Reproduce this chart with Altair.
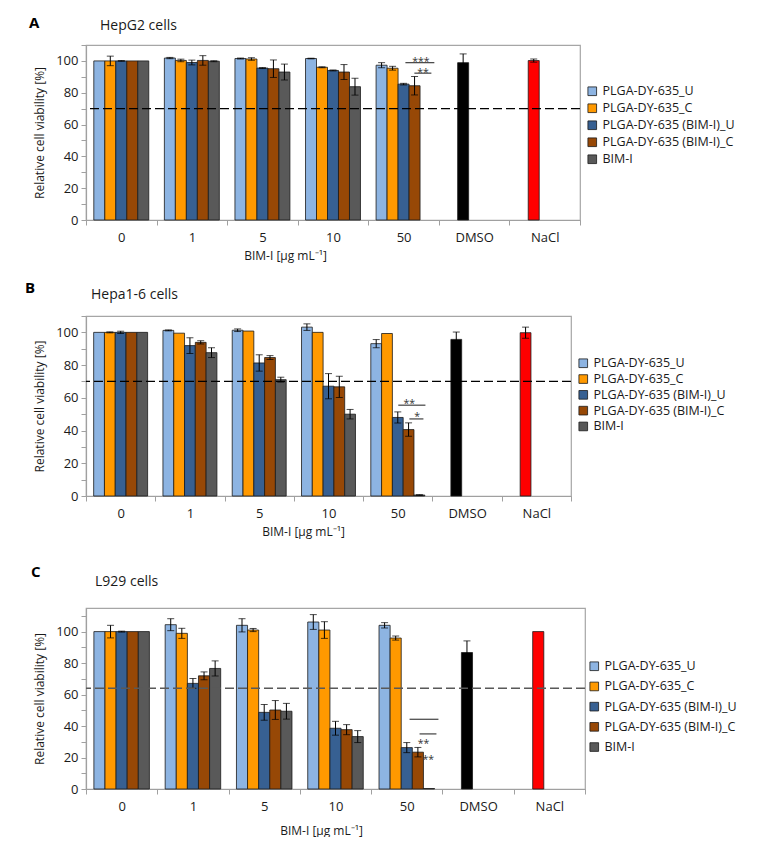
import altair as alt
import pandas as pd

categories = ["0", "1", "5", "10", "50", "DMSO", "NaCl"]
conc = ["0", "1", "5", "10", "50"]
controls = ["DMSO", "NaCl"]
series = ["PLGA-DY-635_U", "PLGA-DY-635_C", "PLGA-DY-635 (BIM-I)_U",
          "PLGA-DY-635 (BIM-I)_C", "BIM-I"]
colors = ["#8DB4E2", "#FF9900", "#376092", "#974806", "#595959"]
ctrl_colors = ["#000000", "#FF0000"]

# Panel A: HepG2
a_vals = [
    [100, 101.8, 101.5, 101.5, 97.3],
    [100, 100.3, 101.2, 96.0, 95.4],
    [100, 99.0, 95.5, 94.0, 85.4],
    [100, 100.3, 95.1, 93.0, 84.4],
    [100, 99.8, 93.0, 83.8, None],
]
a_errs = [
    [0, 0.4, 0.3, 0.2, 1.6],
    [3.0, 0.8, 0.8, 0.3, 1.2],
    [0.2, 1.5, 0.3, 0.3, 0.5],
    [0, 3.0, 5.5, 4.7, 5.8],
    [0, 0.3, 5.0, 5.3, 0],
]
a_ctrl = [98.9, 100.2]
a_ctrl_err = [5.5, 1.0]
a_lines = [(4.526, 4.936, 98.9), (4.653, 4.894, 92.3)]
a_texts = [("***", 4.745, 101.0), ("**", 4.774, 94.2)]

# Panel B: Hepa1-6
b_vals = [
    [100, 101.2, 101.3, 103.2, 93.1],
    [100, 99.5, 100.8, 100.0, 99.3],
    [100, 91.9, 81.3, 67.1, 48.0],
    [100, 93.9, 84.6, 66.7, 40.6],
    [100, 87.6, 71.1, 50.0, 0.6],
]
b_errs = [
    [0, 0.3, 0.8, 2.0, 2.5],
    [0.3, 0, 0, 0, 0],
    [0.7, 4.8, 5.0, 7.7, 3.4],
    [0, 1.0, 1.2, 6.5, 4.1],
    [0, 3.0, 1.5, 2.9, 0.2],
]
b_ctrl = [95.7, 99.8]
b_ctrl_err = [4.5, 3.4]
b_lines = [(4.507, 4.899, 55.5), (4.667, 4.870, 47.1)]
b_texts = [("**", 4.667, 57.8), ("*", 4.78, 50.0)]

# Panel C: L929
c_vals = [
    [100, 104.4, 104.0, 106.1, 104.0],
    [100, 98.9, 101.0, 101.0, 95.9],
    [100, 67.1, 48.7, 38.6, 26.3],
    [100, 71.9, 50.2, 37.7, 23.4],
    [100, 76.6, 49.4, 33.3, 0.3],
]
c_errs = [
    [0, 3.8, 4.2, 4.7, 1.7],
    [4.0, 3.2, 1.0, 5.3, 1.3],
    [0.3, 3.1, 5.0, 4.4, 3.2],
    [0, 2.5, 6.0, 3.2, 3.0],
    [0, 4.8, 5.0, 3.8, 0],
]
c_ctrl = [86.7, 100.0]
c_ctrl_err = [7.4, 0]
c_lines = [(4.539, 4.944, 44.3), (4.679, 4.916, 35.0)]
c_texts = [("**", 4.735, 30.6), ("**", 4.80, 20.3)]

FONT = "Open Sans"
YTITLE = "Relative cell viability [%]"
XTITLE = "BIM-I [µg mL⁻¹]"


def panel(vals, errs, ctrl, ctrl_err, lines, texts, letter, name, W, H, ymax,
          thr, thr_color, title_x, title_pad, legend_x, legend_y, row_pad,
          letter_pos, name_pos, top_extent):
    rows, erows = [], []
    for j, s in enumerate(series):
        for i, c in enumerate(conc):
            v = vals[j][i]
            if v is None:
                continue
            rows.append({"cat": c, "slot": s, "series": s, "value": v})
            e = errs[j][i]
            if e:
                erows.append({"cat": c, "slot": s, "lo": v - e, "hi": v + e})
    crows = []
    for k, c in enumerate(controls):
        crows.append({"cat": c, "slot": series[1], "value": ctrl[k],
                      "col": ctrl_colors[k]})
        if ctrl_err[k]:
            erows.append({"cat": c, "slot": series[1], "lo": ctrl[k] - ctrl_err[k],
                          "hi": ctrl[k] + ctrl_err[k]})
    df = pd.DataFrame(rows)
    dfc = pd.DataFrame(crows)
    dfe = pd.DataFrame(erows)

    xs = alt.Scale(domain=categories, paddingInner=0, paddingOuter=0)
    xax = alt.Axis(title=XTITLE, labelAngle=0, tickBand="extent", titleX=title_x,
                   labelPadding=6, titlePadding=title_pad, tickSize=5)
    xoff = alt.XOffset("slot:N", scale=alt.Scale(domain=series, paddingInner=0,
                                                 paddingOuter=0.71))
    ys = alt.Scale(domain=[0, ymax], nice=False, zero=True)
    yax = alt.Axis(title=YTITLE, values=list(range(0, 111, 10)),
                   labelExpr="datum.value % 20 == 0 && datum.value <= 100 ? datum.label : ''",
                   tickSize=5, labelPadding=3, titlePadding=9)

    bars = alt.Chart(df).mark_bar(stroke="#1a1a1a", strokeWidth=0.8).encode(
        x=alt.X("cat:N", scale=xs, axis=xax, sort=categories),
        xOffset=xoff,
        y=alt.Y("value:Q", scale=ys, axis=yax),
        color=alt.Color("series:N", scale=alt.Scale(domain=series, range=colors),
                        legend=alt.Legend(title=None, orient="none",
                                          legendX=legend_x, legendY=legend_y,
                                          symbolType="square", symbolSize=75,
                                          symbolStrokeColor="#333333",
                                          symbolStrokeWidth=0.8,
                                          labelFontSize=12.5, labelFont=FONT,
                                          labelColor="#1a1a1a",
                                          rowPadding=row_pad, padding=0,
                                          labelOffset=4, labelLimit=300)),
    )
    cbars = alt.Chart(dfc).mark_bar(stroke="#1a1a1a", strokeWidth=0.8).encode(
        x=alt.X("cat:N", scale=xs, axis=xax, sort=categories),
        xOffset=xoff,
        y=alt.Y("value:Q", scale=ys, axis=yax),
        color=alt.Color("col:N", scale=None),
    )
    ebase = alt.Chart(dfe).encode(
        x=alt.X("cat:N", scale=xs, axis=xax, sort=categories),
        xOffset=xoff,
    )
    erule = ebase.mark_rule(color="#000000", strokeWidth=1).encode(
        y=alt.Y("lo:Q", scale=ys, axis=yax), y2="hi:Q")
    etop = ebase.mark_tick(color="#000000", thickness=1, size=7).encode(
        y=alt.Y("hi:Q", scale=ys, axis=yax))
    ebot = ebase.mark_tick(color="#000000", thickness=1, size=7).encode(
        y=alt.Y("lo:Q", scale=ys, axis=yax))
    thr_rule = alt.Chart(pd.DataFrame({"t": [thr]})).mark_rule(
        color=thr_color, strokeDash=[9, 4], strokeWidth=1.3).encode(
        y=alt.Y("t:Q", scale=ys, axis=yax))

    main = alt.layer(bars, cbars, erule, etop, ebot, thr_rule)

    ax = alt.Scale(domain=[0, 7])
    ldf = pd.DataFrame(lines, columns=["x1", "x2", "yv"])
    tdf = pd.DataFrame(texts, columns=["txt", "xt", "yv"])
    srule = alt.Chart(ldf).mark_rule(color="#404040", strokeWidth=1.2).encode(
        x=alt.X("x1:Q", scale=ax, axis=None), x2="x2:Q",
        y=alt.Y("yv:Q", scale=ys, axis=yax))
    stext = alt.Chart(tdf).mark_text(font=FONT, fontSize=10.5, color="#333333",
                                     baseline="middle", dy=3).encode(
        x=alt.X("xt:Q", scale=ax, axis=None),
        y=alt.Y("yv:Q", scale=ys, axis=yax), text="txt:N")
    lab = alt.Chart(pd.DataFrame({"a": [letter], "b": [name], "e": ["."]}))
    ltext = lab.mark_text(font=FONT, fontSize=15, fontWeight="bold", align="left",
                          baseline="top", color="#000000").encode(
        x=alt.value(letter_pos[0]), y=alt.value(letter_pos[1]), text="a:N")
    ntext = lab.mark_text(font=FONT, fontSize=14, align="left", baseline="top",
                          color="#1a1a1a").encode(
        x=alt.value(name_pos[0]), y=alt.value(name_pos[1]), text="b:N")
    spacer = lab.mark_text(fontSize=4, align="left", baseline="top",
                           color="#ffffff").encode(
        x=alt.value(name_pos[0]), y=alt.value(top_extent), text="e:N")

    ann = alt.layer(srule, stext, ltext, ntext, spacer)
    return alt.layer(main, ann).resolve_scale(x="independent").properties(
        width=W, height=H)


pa = panel(a_vals, a_errs, a_ctrl, a_ctrl_err, a_lines, a_texts, "A", "HepG2 cells",
           494, 175, 110, 70, "#000000", 199, 6, 500, 40, 4.0, (-57, -29), (14, -26), -29)
pb = panel(b_vals, b_errs, b_ctrl, b_ctrl_err, b_lines, b_texts, "B", "Hepa1-6 cells",
           485, 180, 110, 70, "#000000", 217, 6, 491, 41, 2.8, (-61, -35), (5, -28), -37)
pc = panel(c_vals, c_errs, c_ctrl, c_ctrl_err, c_lines, c_texts, "C", "L929 cells",
           499, 181, 115, 64, "#595959", 235, 12, 502, 52, 7.2, (-55, -43), (9, -33), -53)

chart = alt.vconcat(pa, pb, pc, spacing=16).resolve_scale(
    color="independent", x="independent", y="independent", xOffset="independent"
).resolve_legend(color="independent").properties(
    padding={"left": 16, "top": 7, "right": 0, "bottom": 0}
).configure_view(stroke="#a6a6a6", strokeWidth=1.2).configure_axis(
    labelFont=FONT, titleFont=FONT, labelFontSize=13, titleFontSize=12,
    titleFontWeight="normal", labelColor="#1a1a1a", titleColor="#1a1a1a",
    grid=False, domainColor="#a0a0a0", tickColor="#a0a0a0", domainWidth=1.2
)

chart.save("out.html", embed_options={"renderer": "svg", "actions": False})
